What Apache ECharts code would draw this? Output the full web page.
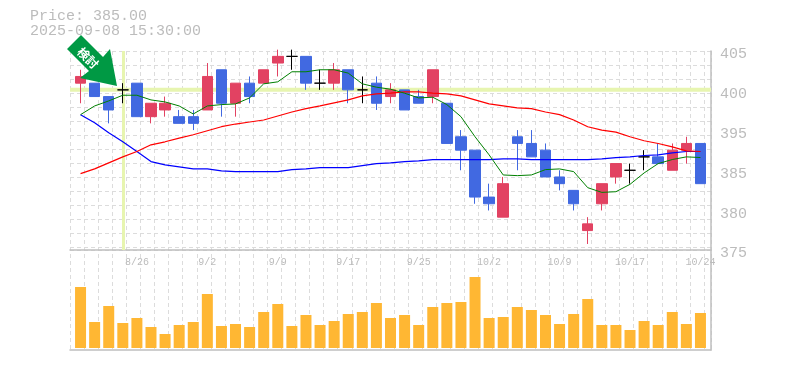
<!DOCTYPE html>
<html>
<head>
<meta charset="utf-8">
<style>
    html, body { margin: 0; padding: 0; background: #fff; }
    #chart { width: 785px; height: 370px; }
</style>
<script src="https://cdn.jsdelivr.net/npm/echarts@6/dist/echarts.min.js"></script>
</head>
<body>
<div id="chart"></div>
<script>
const dates = ['8/20','8/21','8/22','8/25','8/26','8/27','8/28','8/29','9/1','9/2','9/3','9/4','9/5','9/8','9/9','9/10','9/11','9/12','9/16','9/17','9/18','9/19','9/22','9/24','9/25','9/26','9/29','9/30','10/1','10/2','10/3','10/6','10/7','10/8','10/9','10/10','10/14','10/15','10/16','10/17','10/20','10/21','10/22','10/23','10/24'];
const opens = [400,400,398,399,400,395,396,395,395,396,402,397,400,400,403,404,404,400,400,402,399,400,398,399,398,398,397,392,390,383,380,392,391,390,386,384,378,382,386,387,389,389,387,390,391];
const closes = [401,398,396,399,395,397,397,394,394,401,397,400,398,402,404,404,400,400,402,399,399,397,399,396,397,402,391,390,383,382,385,391,389,386,385,382,379,385,388,387,389,388,390,391,385];
const lows = [397,398,394,397,395,394,395,394,393,396,395,395,397,400,401,402,399,399,399,397,397,396,397,396,397,397,391,387,382,381,380,387,389,386,384,381,376,381,385,385,387,388,387,388,385];
const highs = [402,400,398,400,400,397,398,396,396,403,402,400,401,402,405,405,404,402,403,402,401,401,400,399,399,402,397,393,390,385,386,393,393,391,387,384,380,385,388,388,390,391,391,392,391];
const maShort = [395.3,396.6,397.35,398.2,398.2,397.5,397.2,396.6,395.4,396.6,396.8,396.9,397.8,399.9,400.2,401.7,401.7,402,402,401.5,399.9,399.4,399.1,398.5,397.8,397.9,396.8,395,392,389.3,386.3,386.2,386.3,387.1,387.2,386.8,384.4,383.7,383.8,384.9,386.6,388,388.6,389,388.9];
const maMid = [386.5,387.2,388.1,389,389.8,390.8,391.25,391.8,392.3,392.9,393.5,393.9,394.2,394.5,395.1,395.7,396.2,396.6,397.05,397.5,398.1,398.4,398.5,398.7,398.7,398.5,398.4,398.1,397.5,396.9,396.6,396.3,396.2,395.7,395.3,394.5,393.5,393,392.7,392,391.4,391,390.5,389.9,389.8];
const maLong = [395.3,394.1,392.6,391.25,389.8,388.3,387.8,387.5,387.2,387.2,386.9,386.8,386.8,386.8,386.8,387.1,387.2,387.4,387.4,387.4,387.7,388,388.1,388.3,388.4,388.6,388.6,388.6,388.6,388.6,388.7,388.7,388.6,388.6,388.6,388.6,388.6,388.7,388.9,389,389.2,389.3,389.6,389.8,389.8];
const volumes = [61,26,42,25,30,21,14,23,26,54,22,24,21,36,44,22,33,23,27,34,36,45,30,33,23,41,45,46,71,30,31,41,38,33,24,34,49,23,23,18,27,23,36,24,35];
const yTickLabels = ['375','380','385','395','400','405'];
const refPrice = 399;
const refIndex = 3;
const priceText = 'Price: 385.00';
const timeText = '2025-09-08 15:30:00';

const MONO = '"Liberation Mono", monospace';
const LABEL = '#bcbcbc';
const FRAME = '#bfbfbf';
const GUIDE = '#e7f5b0';
const dash = { color: '#dcdcdc', width: 1, type: [4, 3] };
const hidden = { axisLine: { show: false }, axisTick: { show: false }, axisLabel: { show: false }, splitLine: { show: false } };

// 14.09px per bar, the bars sit 3.5px inside the frame
const frameUnits = 45.49;
const priceMin = 375.1;
const priceMax = 404.8;

const candles = dates.map((d, i) => [opens[i], closes[i], lows[i], highs[i]]);

let myEcharts = echarts.init(document.getElementById('chart'));
myEcharts.setOption({
    animation: false,
    backgroundColor: '#fff',
    title: {
        text: priceText + '\n' + timeText,
        left: 30,
        top: 9,
        padding: 0,
        textStyle: { fontFamily: MONO, fontSize: 15, fontWeight: 'normal', color: LABEL, lineHeight: 15 }
    },
    grid: [
        { left: 70, top: 51, width: 641, height: 299 },
        { left: 70, top: 51, width: 641, height: 199 },
        { left: 73.5, top: 51, width: 634, height: 199 },
        { left: 73.5, top: 252, width: 634, height: 96 }
    ],
    xAxis: [
        {
            gridIndex: 0, type: 'value', min: 0, max: frameUnits, interval: 1, position: 'bottom',
            axisLine: { show: true, onZero: false, lineStyle: { color: FRAME, width: 1.5 } },
            axisTick: { show: false }, axisLabel: { show: false },
            splitLine: { show: true, lineStyle: dash }
        },
        {
            gridIndex: 1, type: 'value', min: 0, max: frameUnits, position: 'bottom',
            axisLine: { show: true, onZero: false, lineStyle: { color: FRAME, width: 1.5 } },
            axisTick: { show: false }, axisLabel: { show: false }, splitLine: { show: false }
        },
        {
            gridIndex: 2, type: 'category', data: dates, position: 'bottom',
            axisLine: { show: false }, axisTick: { show: false }, splitLine: { show: false },
            axisLabel: {
                show: true, interval: (i) => i % 5 === 4, margin: 7, hideOverlap: false,
                fontFamily: MONO, fontSize: 10, color: LABEL
            }
        },
        Object.assign({ gridIndex: 3, type: 'category', data: dates }, hidden)
    ],
    yAxis: [
        {
            gridIndex: 0, type: 'value', min: 0, max: 1, position: 'right',
            axisLine: { show: true, onZero: false, lineStyle: { color: FRAME, width: 1.5 } },
            axisTick: { show: false }, axisLabel: { show: false }, splitLine: { show: false }
        },
        {
            gridIndex: 1, type: 'value', min: 0, max: 14.18, interval: 1, inverse: true,
            axisLine: { show: false }, axisTick: { show: false }, axisLabel: { show: false },
            splitLine: { show: true, lineStyle: dash }
        },
        {
            gridIndex: 1, type: 'value', min: 0, max: yTickLabels.length - 1, interval: 1, position: 'right',
            axisLine: { show: false }, axisTick: { show: false }, splitLine: { show: false },
            axisLabel: {
                show: true, margin: 9, verticalAlign: 'top', padding: [-4, 0, 0, 0],
                fontFamily: MONO, fontSize: 15, color: LABEL,
                formatter: (v) => yTickLabels[v]
            }
        },
        Object.assign({ gridIndex: 1, type: 'value', min: priceMin, max: priceMax }, hidden),
        Object.assign({ gridIndex: 2, type: 'value', min: priceMin, max: priceMax }, hidden),
        Object.assign({ gridIndex: 3, type: 'value', min: 0, max: 96 }, hidden)
    ],
    series: [
        {
            // horizontal guide, runs the full width of the frame
            type: 'line', xAxisIndex: 1, yAxisIndex: 3, z: 1, symbol: 'none', silent: true,
            data: [[0, refPrice], [frameUnits, refPrice]],
            lineStyle: { color: GUIDE, width: 4 }
        },
        {
            type: 'candlestick', xAxisIndex: 2, yAxisIndex: 4, z: 3, barWidth: 11,
            data: candles,
            itemStyle: {
                color: '#e24262', color0: '#4169e1',
                borderColor: '#e24262', borderColor0: '#4169e1', borderColorDoji: '#000',
                borderWidth: 1
            },
            markLine: {
                silent: true, symbol: 'none', z: 1, animation: false,
                label: { show: false },
                lineStyle: { color: GUIDE, width: 3, type: 'solid' },
                data: [{ xAxis: refIndex }]
            }
        },
        {
            name: 'maLong', type: 'line', xAxisIndex: 2, yAxisIndex: 4, z: 4, data: maLong,
            symbol: 'none', lineStyle: { color: '#0000ff', width: 1.2 }
        },
        {
            name: 'maMid', type: 'line', xAxisIndex: 2, yAxisIndex: 4, z: 4, data: maMid,
            symbol: 'none', lineStyle: { color: '#ff0000', width: 1.2 }
        },
        {
            name: 'maShort', type: 'line', xAxisIndex: 2, yAxisIndex: 4, z: 4, data: maShort,
            symbol: 'none', lineStyle: { color: '#008000', width: 1 }
        },
        {
            type: 'bar', xAxisIndex: 3, yAxisIndex: 5, z: 3, barWidth: 11, data: volumes,
            itemStyle: { color: '#ffb733' }
        }
    ],
    graphic: [
        {
            type: 'polygon', z: 20,
            shape: { points: [[81, 35], [67, 49], [89, 71], [80, 78], [117, 86], [110, 49], [103, 57]] },
            style: { fill: '#009944' }
        },
        {
            type: 'text', z: 21, x: 88, y: 58, rotation: -Math.PI / 4,
            style: {
                text: '検討', fill: '#fff', align: 'center', verticalAlign: 'middle',
                font: 'bold 12px "Noto Sans CJK JP"'
            }
        }
    ]
});
</script>
</body>
</html>
